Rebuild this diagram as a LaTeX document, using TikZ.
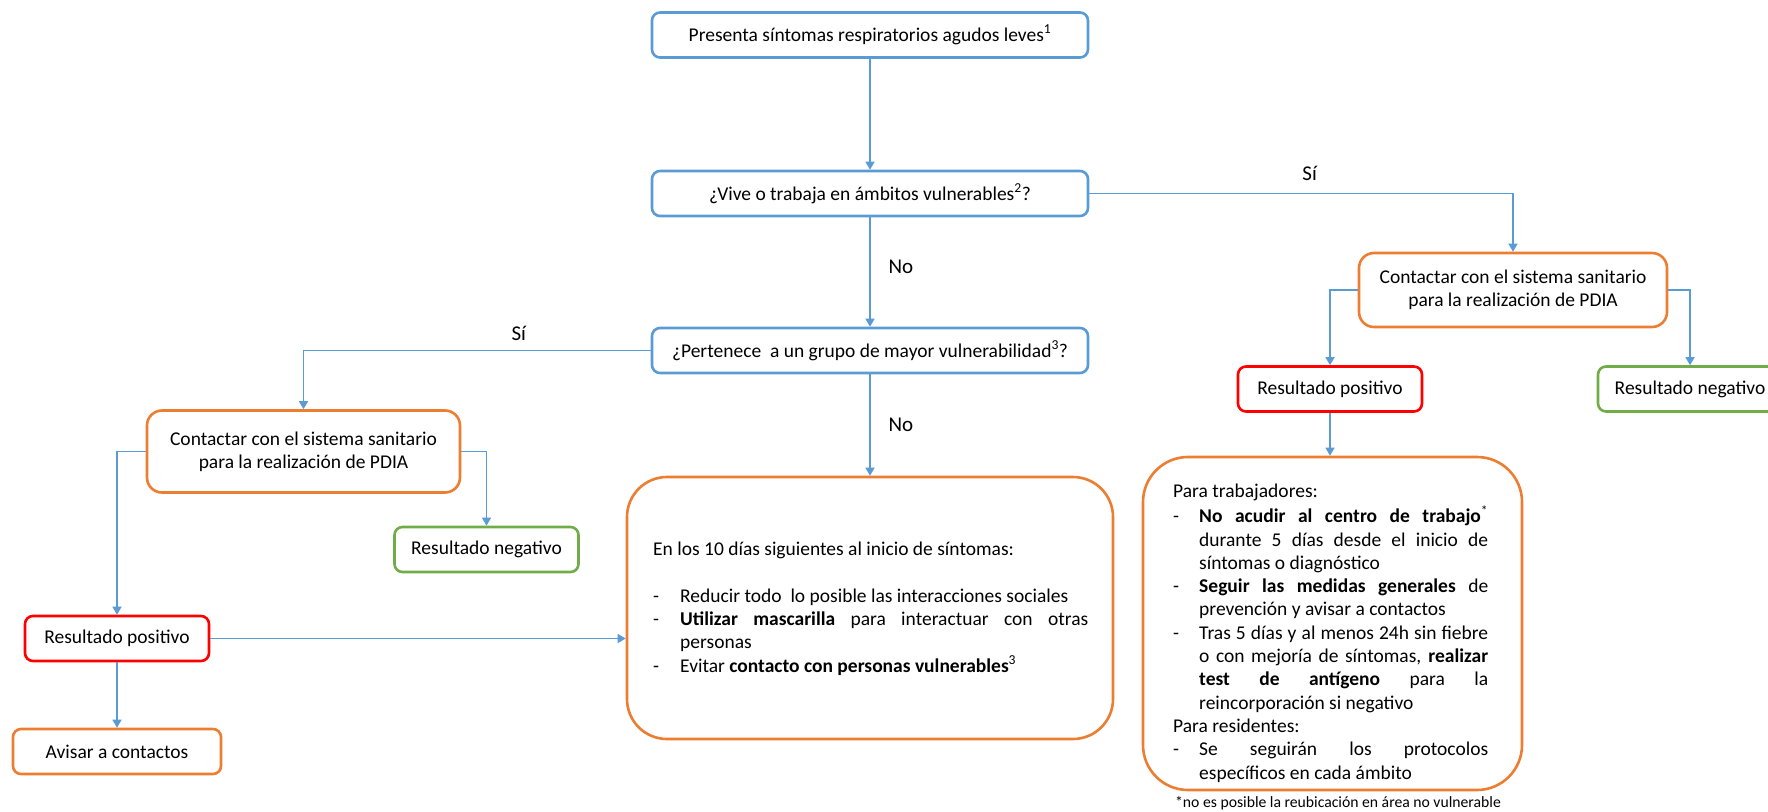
\documentclass[tikz,border=0pt]{standalone}
\usepackage{fontspec}
\setmainfont{Carlito}
\usetikzlibrary{arrows.meta}
\definecolor{cblue}{RGB}{91,155,213}
\definecolor{corange}{RGB}{237,125,49}
\definecolor{cred}{RGB}{255,0,0}
\definecolor{cgreen}{RGB}{112,173,71}
\begin{document}
\begin{tikzpicture}[x=1pt,y=-1pt,
  every node/.style={font=\fontsize{19.5}{23.3}\selectfont, text=black},
  box/.style={draw, line width=2.6pt, rounded corners=8pt, inner sep=0pt, align=center},
  bluebox/.style={box, draw=cblue, minimum width=436pt, minimum height=45pt},
  orbox/.style={box, draw=corange},
  redbox/.style={box, draw=cred, minimum width=184pt, minimum height=45pt},
  greenbox/.style={box, draw=cgreen, minimum width=184pt, minimum height=45pt},
  conn/.style={draw=cblue, line width=1.3pt},
  arr/.style={conn, -{Triangle[width=9pt,length=8pt]}},
  lbl/.style={font=\fontsize{21}{25}\selectfont, inner sep=0pt},
  bodytext/.style={inner sep=0pt, align=justify, anchor=north west}
]
\useasboundingbox (0,0) rectangle (1768,811);

% main column
\node[bluebox] (b1) at (870,35) {Presenta síntomas respiratorios agudos leves\textsuperscript{1}};
\node[bluebox] (b2) at (870,193.5) {¿Vive o trabaja en ámbitos vulnerables\textsuperscript{2}?};
\node[bluebox] (b3) at (870,350.5) {¿Pertenece\ \ a un grupo de mayor vulnerabilidad\textsuperscript{3}?};

% left branch
\node[orbox, rounded corners=15pt, minimum width=313pt, minimum height=82pt] (cL) at (303.5,451.5)
  {Contactar con el sistema sanitario\\para la realización de PDIA};
\node[greenbox] (nL) at (486.5,549.5) {Resultado negativo};
\node[redbox] (pL) at (117,638.5) {Resultado positivo};
\node[orbox, minimum width=208pt, minimum height=45pt] (av) at (117,751.5) {Avisar a contactos};

% right branch
\node[orbox, rounded corners=15pt, minimum width=308pt, minimum height=74pt] (cR) at (1513,290)
  {Contactar con el sistema sanitario\\para la realización de PDIA};
\node[redbox] (pR) at (1330,389) {Resultado positivo};
\node[greenbox] (nR) at (1690,389) {Resultado negativo};

% big middle box
\node[orbox, rounded corners=40pt, minimum width=486pt, minimum height=262pt] (mid) at (870,608) {};
\node[bodytext, text width=435pt] (midtxt) at (653,539) {\parindent=0pt
\strut En los 10 días siguientes al inicio de síntomas:\par
\mbox{}\par
\hangindent=27pt\hangafter=1\makebox[27pt][l]{-}Reducir todo\ \ lo posible las interacciones sociales\par
\hangindent=27pt\hangafter=1\makebox[27pt][l]{-}\textbf{Utilizar mascarilla} para interactuar con otras\linebreak personas\par
\hangindent=27pt\hangafter=1\makebox[27pt][l]{-}Evitar \textbf{contacto con personas vulnerables}\textsuperscript{3}\par};

% big right box
\node[orbox, rounded corners=45pt, minimum width=379pt, minimum height=333pt] (big) at (1332.5,623.5) {};
\node[bodytext, text width=315pt] (bigtxt) at (1173,481) {\parindent=0pt
\strut Para trabajadores:\par
\hangindent=26pt\hangafter=1\makebox[26pt][l]{-}\textbf{No acudir al centro de trabajo}\textsuperscript{*}\linebreak durante 5 días desde el inicio de\linebreak síntomas o diagnóstico\par
\hangindent=26pt\hangafter=1\makebox[26pt][l]{-}\textbf{Seguir las medidas generales} de\linebreak prevención y avisar a contactos\par
\hangindent=26pt\hangafter=1\makebox[26pt][l]{-}Tras 5 días y al menos 24h sin fiebre\linebreak o con mejoría de síntomas, \textbf{realizar}\linebreak \textbf{test de antígeno} para la\linebreak reincorporación si negativo\par
Para residentes:\par
\hangindent=26pt\hangafter=1\makebox[26pt][l]{-}Se seguirán los protocolos\linebreak específicos en cada ámbito\par};

\node[font=\fontsize{15.7}{18}\selectfont, inner sep=0pt] (fn) at (1338,803) {*no es posible la reubicación en área no vulnerable};

% connectors
\draw[arr] (b1) -- (b2);
\draw[arr] (b2) -- node[lbl, pos=0.45, right=18pt] {No} (b3);
\draw[arr] (b3) -- node[lbl, pos=0.5, right=18pt] {No} (mid);
\draw[arr] (b2.east) -| node[lbl, pos=0.26, above=12pt] {Sí} (cR.north);
\draw[arr] (b3.west) -| node[lbl, pos=0.19, above=9pt] {Sí} (cL.north);
\draw[arr] (cL.west) -| (pL.north);
\draw[arr] (cL.east) -| (nL.north);
\draw[arr] (pL) -- (av);
\draw[arr] (pL.east) -- (pL.east -| mid.west);
\draw[arr] (cR.west) -| (pR.north);
\draw[arr] (cR.east) -| (nR.north);
\draw[arr] (pR.south) -- (pR.south |- big.north);
\end{tikzpicture}
\end{document}
